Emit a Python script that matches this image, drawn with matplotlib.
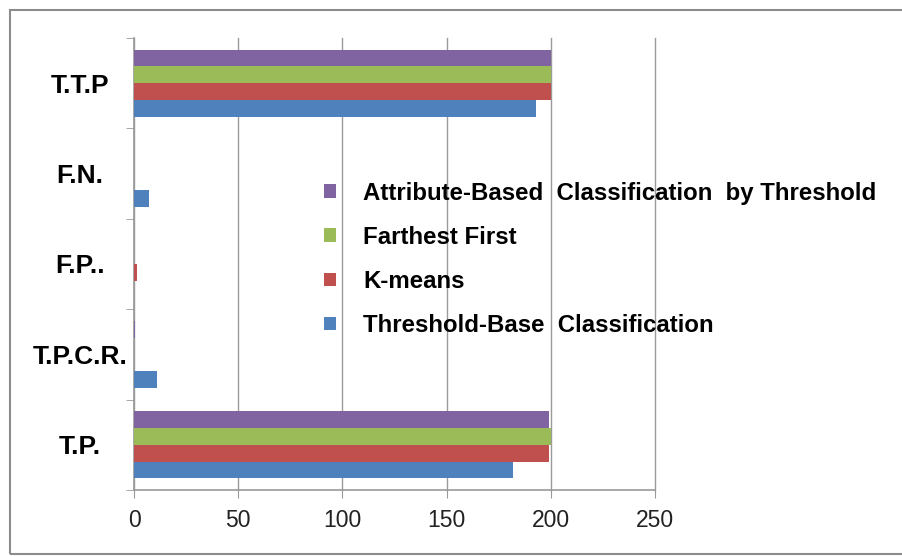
import numpy as np
import matplotlib.pyplot as plt
import matplotlib.patches as mpatches

categories = ["T.P.", "T.P.C.R.", "F.P..", "F.N.", "T.T.P"]
series_names = ["Threshold-Base  Classification", "K-means", "Farthest First",
                "Attribute-Based  Classification  by Threshold"]
threshold_base = [182, 11, 0, 7, 193]
kmeans = [199, 0, 1.5, 0, 200]
farthest_first = [200, 0, 0, 0, 200]
attribute_based = [199, 0.5, 0, 0, 200]
colors = ["#4F81BD", "#C0504D", "#9BBB59", "#8064A2"]
xticks = [0, 50, 100, 150, 200, 250]

plt.rcParams['font.family'] = ['Liberation Sans', 'DejaVu Sans']

fig = plt.figure(figsize=(9.03, 5.56), dpi=100)
ax = fig.add_axes([0.1484, 0.1187, 0.577, 0.813])

# outer chart border
fig.patches.append(mpatches.Rectangle((10 / 903, 2 / 556), 1.0, 544 / 556,
                                      transform=fig.transFigure, fill=False,
                                      edgecolor="#8c8c8c", linewidth=1.5))

y = np.arange(len(categories))
h = 0.185
data = [threshold_base, kmeans, farthest_first, attribute_based]
for i, (vals, c, name) in enumerate(zip(data, colors, series_names)):
    ax.barh(y + (i - 1.5) * h, vals, height=h, color=c, label=name, zorder=3)

ax.set_xlim(0, 250)
ax.set_ylim(-0.5, 4.5)
ax.set_xticks(xticks)
ax.set_xticklabels([str(t) for t in xticks], fontsize=16.5, color="#222222")
ax.set_yticks(y)
ax.set_yticklabels(categories, fontsize=19, fontweight="bold", ha="center")
ax.set_yticks(np.arange(-0.5, 5, 1), minor=True)
ax.tick_params(axis="y", which="major", length=0, pad=39)
ax.tick_params(axis="y", which="minor", length=6, color="#9a9a9a")
ax.tick_params(axis="x", length=6, color="#9a9a9a", pad=8)

ax.grid(axis="x", color="#9a9a9a", linewidth=1, zorder=0)
for gl in ax.get_xgridlines():
    gl.set_clip_on(False)
for s in ["top", "right"]:
    ax.spines[s].set_visible(False)
for s in ["left", "bottom"]:
    ax.spines[s].set_color("#9a9a9a")
    ax.spines[s].set_linewidth(1.2)

handles, labels = ax.get_legend_handles_labels()
leg = ax.legend(handles[::-1], labels[::-1], loc="upper left",
                bbox_to_anchor=(0.3225, 0.73), frameon=False,
                prop={"size": 17.3, "weight": "bold"},
                handlelength=0.5, handleheight=0.5, handletextpad=1.15,
                labelspacing=0.88)

fig.savefig("out.png", dpi=100)
